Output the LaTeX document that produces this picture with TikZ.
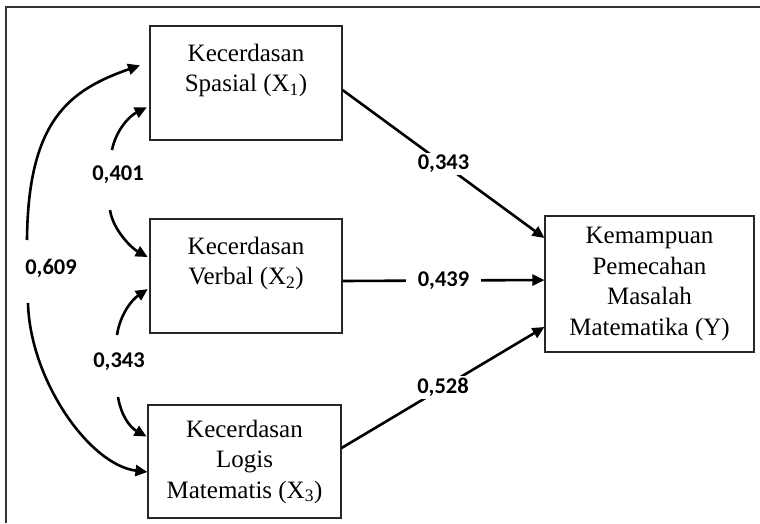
\documentclass[tikz,border=0pt]{standalone}
\usepackage{fontspec}
\setmainfont{Liberation Serif}
\newfontfamily\labfont{Carlito}
\usetikzlibrary{arrows.meta,calc}
\begin{document}
\begin{tikzpicture}[x=1pt,y=-1pt,
  varbox/.style={draw=black!85,line width=1.1pt,inner sep=0pt,align=center,
    font=\fontsize{25}{30.5}\selectfont,text=black},
  arr/.style={line width=2.6pt,-{Triangle[length=12pt,width=11pt]}},
  coef/.style={font=\labfont\bfseries\fontsize{22.5}{26}\selectfont,text=black,inner sep=0pt},
  coefw/.style={coef,fill=white,inner xsep=12pt,inner ysep=2pt}]
\useasboundingbox (0,0) rectangle (760,523);
\draw[line width=1.2pt,black!80] (6,523) -- (6,7) -- (760,7);
% boxes
\node[varbox,minimum width=192pt,minimum height=114pt] (X1) at (246,83)
  {Kecerdasan\\Spasial (X\textsubscript{1})\\\mbox{}};
\node[varbox,minimum width=192pt,minimum height=114pt] (X2) at (246,276)
  {Kecerdasan\\Verbal (X\textsubscript{2})\\\mbox{}};
\node[varbox,minimum width=193pt,minimum height=113pt] (X3) at (244.5,461.5)
  {Kecerdasan\\Logis\\Matematis (X\textsubscript{3})};
\node[varbox,minimum width=209pt,minimum height=136pt] (Y) at (649.5,284)
  {Kemampuan\\Pemecahan\\Masalah\\Matematika (Y)};
% direct paths
\draw[arr] ($(X1.east)+(0,7)$) -- node[coefw]{0,343} ($(Y.west)+(0,-46)$);
\draw[arr] ($(X2.east)+(0,5)$) -- node[coefw]{0,439} ($(Y.west)+(0,-4)$);
\draw[arr] ($(X3.east)+(0,-13.5)$) -- node[coefw]{0,528} ($(Y.west)+(0,43)$);
% correlation labels
\node[coef] (l609) at (51,268) {0,609};
\node[coef] (l401) at (118,175) {0,401};
\node[coef] (l343) at (119,362) {0,343};
\coordinate (c609t) at (27,240);
\coordinate (c609b) at (28,303);
\coordinate (c401t) at (112,150);
\coordinate (c401b) at (110,210);
\coordinate (c343t) at (117,335);
\coordinate (c343b) at (118,397);
% curved arrows
\draw[arr,shorten >=10pt] (c609t) .. controls +(1,-120) and +(-80,28) .. ($(X1.west)+(0,-21)$);
\draw[arr] (c609b) .. controls +(2,77) and +(-58,-7) .. ($(X3.west)+(0,10.5)$);
\draw[arr,shorten >=3pt] (c401t) .. controls +(4,-20) and +(-20,10) .. ($(X1.west)+(0,23)$);
\draw[arr,shorten >=2pt] (c401b) .. controls +(3,20) and +(-18,-10) .. ($(X2.west)+(0,-18)$);
\draw[arr,shorten >=2pt] (c343t) .. controls +(3,-20) and +(-18,12) .. ($(X2.west)+(0,12)$);
\draw[arr,shorten >=1pt] (c343b) .. controls +(3,18) and +(-18,-10) .. ($(X3.west)+(0,-24.5)$);
\end{tikzpicture}
\end{document}
